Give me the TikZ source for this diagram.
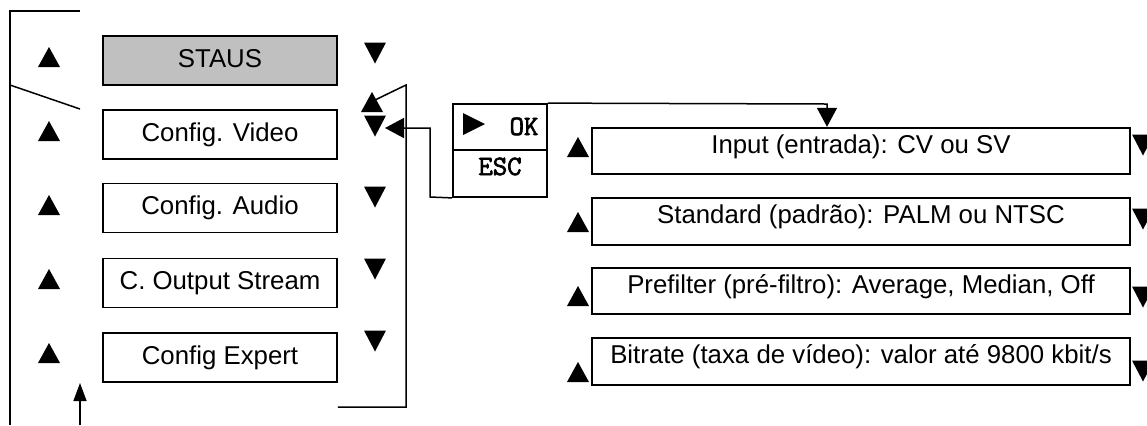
\documentclass[tikz,border=0pt]{standalone}
\usepackage{fontspec}
\setmainfont{Liberation Sans}
\newfontfamily\keyfont[FakeBold=2.5]{Latin Modern Mono}
\usetikzlibrary{arrows.meta,calc}
\definecolor{statusgray}{RGB}{192,192,192}
\begin{document}
\begin{tikzpicture}[x=0.5pt,y=-0.5pt,
  every node/.style={font=\fontsize{12.9}{15}\selectfont},
  lbox/.style={draw,line width=0.9pt,minimum width=117pt,minimum height=24.5pt,inner sep=0},
  rbox/.style={draw,line width=0.9pt,minimum width=269pt,minimum height=23.3pt,inner sep=0},
  kbox/.style={draw,line width=0.9pt,minimum width=47pt,inner sep=0},
  txt/.style={anchor=base,inner sep=0},
  ktxt/.style={anchor=base,inner sep=0,font=\fontsize{14}{16}\keyfont\bfseries},
  conn/.style={line width=0.75pt},
  bigarrow/.style={-{Triangle[length=9.5pt,width=10pt]}},
  smallarrow/.style={-{Triangle[length=9pt,width=6.5pt]}},
  uptri/.pic={\fill (-11,10) -- (11,10) -- (0,-10) -- cycle;},
  dntri/.pic={\fill (-11,-10.5) -- (11,-10.5) -- (0,10.5) -- cycle;},
  rttri/.pic={\fill (-11,-11) -- (-11,11) -- (11,0) -- cycle;},
]
\useasboundingbox (0,0) rectangle (1147,425);

% left menu boxes
\node[lbox,fill=statusgray] (st) at (220,60.5) {};
\node[lbox] (cv) at (220,134.5) {};
\node[lbox] (ca) at (220,208) {};
\node[lbox] (co) at (220,283) {};
\node[lbox] (ce) at (220,357.5) {};
\node[txt] (stt) at ($(st.center)+(0,6.5)$) {STAUS};
\node[txt] (cvt) at ($(cv.center)+(0,6.5)$) {Config. Video};
\node[txt] (cat) at ($(ca.center)+(0,6.5)$) {Config. Audio};
\node[txt] (cot) at ($(co.center)+(0,6.5)$) {C. Output Stream};
\node[txt] (cet) at ($(ce.center)+(0,6.5)$) {Config Expert};

% left triangles
\foreach \y in {57,131,205,279,353} \pic at (49,\y) {uptri};
\foreach \y in {53,126,197,269,341} \pic at (375,\y) {dntri};
\pic at (372,102) {uptri};

% right option boxes
\node[rbox] (in) at (861,151) {};
\node[rbox] (sd) at (861,221.5) {};
\node[rbox] (pf) at (861,291) {};
\node[rbox] (br) at (861,361.5) {};
\node[txt] (int) at ($(in.center)+(0,2)$) {Input (entrada): CV ou SV};
\node[txt] (sdt) at ($(sd.center)+(0,2)$) {Standard (padrão): PALM ou NTSC};
\node[txt] (pft) at ($(pf.center)+(0,2)$) {Prefilter (pré-filtro): Average, Median, Off};
\node[txt] (brt) at ($(br.center)+(0,2)$) {Bitrate (taxa de vídeo): valor até 9800 kbit/s};
\foreach \y in {147,222,296,372} \pic at (578,\y) {uptri};
\foreach \y in {145,219,297,371} \pic at (1143,\y) {dntri};

% OK / ESC keys
\node[kbox,minimum height=23pt] (ok) at (500,127) {};
\node[kbox,minimum height=23.5pt] (esc) at (500,173.5) {};
\pic at (474,124) {rttri};
\node[ktxt] (okt) at (524,135) {OK};
\node[ktxt] (esct) at (500,175) {ESC};

% connectors
\coordinate (okturn) at (827,104);
\draw[conn,bigarrow] (ok.north east) -- (okturn) -- (okturn |- in.north);
\coordinate (cvdn) at (385,128);
\coordinate (escturn) at (430,197);
\draw[conn,bigarrow] (esc.south west) -- (escturn) |- (cvdn);
\coordinate (rtop) at (406,85);
\coordinate (rbot) at (406,407);
\coordinate (uparr) at (375,100);
\draw[conn] (ce.east |- rbot) -- (rbot) -- (rtop) -- (uparr);
\coordinate (ltop) at (80,11);
\coordinate (lcorner) at (10,11);
\coordinate (lbot) at (10,425);
\draw[conn] (ltop) -- (lcorner) -- (lbot);
\coordinate (dga) at (10,85);
\coordinate (dgb) at (80,109);
\draw[conn] (dga) -- (dgb);
\coordinate (barrs) at (80,425);
\coordinate (barre) at (80,383);
\draw[conn,smallarrow] (barrs) -- (barre);
\end{tikzpicture}
\end{document}
